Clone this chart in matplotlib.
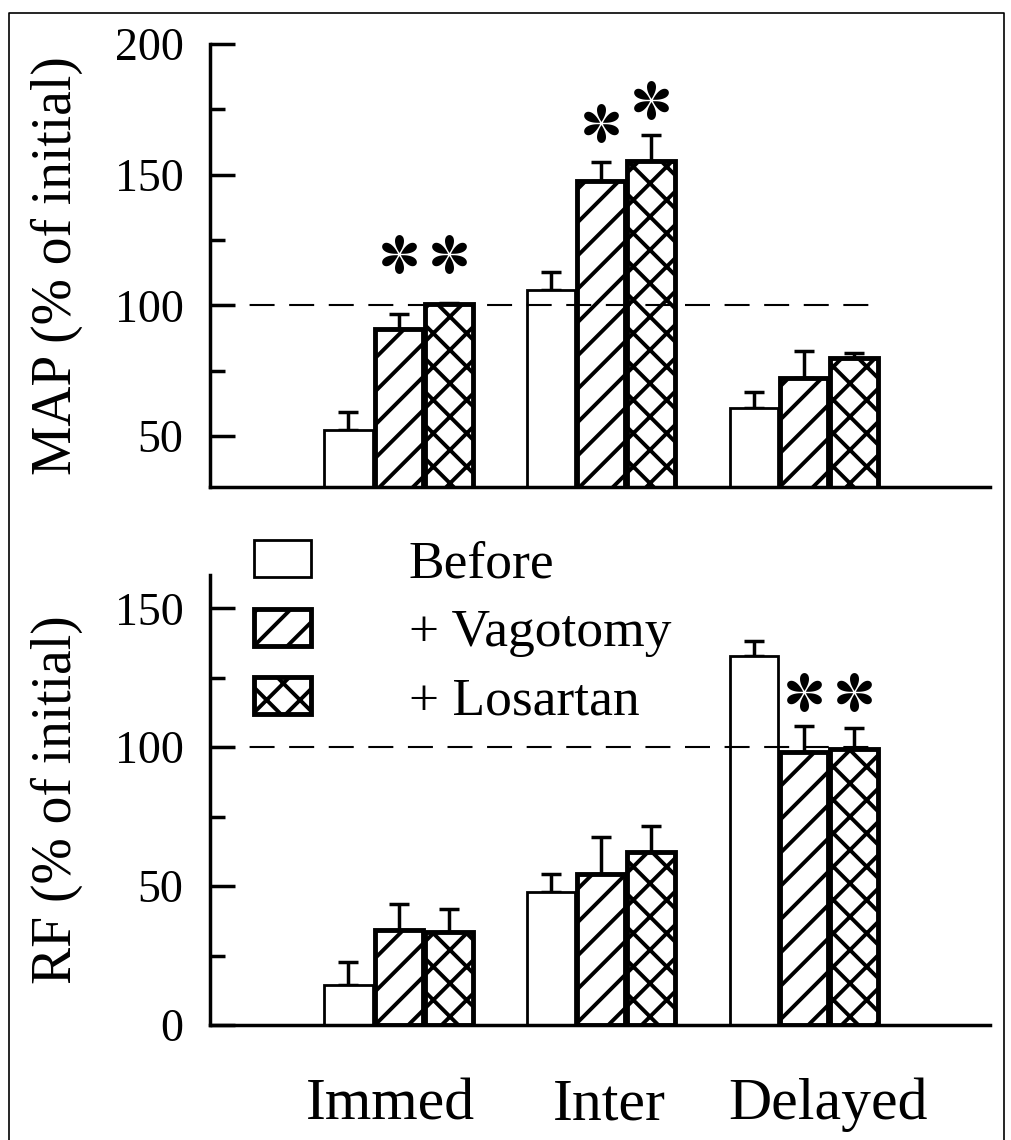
import numpy as np
import matplotlib.pyplot as plt
from matplotlib.lines import Line2D
from matplotlib.path import Path
from matplotlib.transforms import Affine2D

plt.rcParams['font.family'] = ['Liberation Serif', 'DejaVu Serif']
plt.rcParams['hatch.linewidth'] = 2.8

groups = ['Immed', 'Inter', 'Delayed']
series = ['Before', '+ Vagotomy', '+ Losartan']

# MAP (% of initial)
map_before = [52.3, 105.7, 60.7]
map_vag = [90.8, 147.7, 72.1]
map_los = [100.4, 155.3, 79.8]
map_before_err = [6.9, 6.9, 6.1]
map_vag_err = [5.8, 7.3, 10.3]
map_los_err = [0.6, 10.0, 1.9]
map_vag_star = [119.8, 169.7, None]
map_los_star = [119.8, 178.6, None]

# RF (% of initial)
rf_before = [14.4, 48.0, 132.9]
rf_vag = [34.3, 54.2, 98.2]
rf_los = [33.6, 62.1, 99.3]
rf_before_err = [8.3, 6.5, 5.5]
rf_vag_err = [9.4, 13.3, 9.4]
rf_los_err = [8.0, 9.7, 7.6]
rf_vag_star = [None, None, 120.0]
rf_los_star = [None, None, 120.0]

map_ticks = [50, 100, 150, 200]
rf_ticks = [0, 50, 100, 150]

group_x = np.arange(3) * 4.05
pitch = 1.0
width = 0.96
hatches = ['', '/', 'x']
edge_lw = [2.0, 3.5, 3.5]

# six teardrop petals, like the Times asterisk
t = np.linspace(0, 2 * np.pi, 60)
petal = Path(np.column_stack([0.15 * np.sin(t) * np.sin(t / 2),
                              0.04 + 0.46 * (1 - np.cos(t)) / 2]), closed=True)
star_path = Path.make_compound_path(*[
    Affine2D().rotate_deg(60 * k).transform_path(petal) for k in range(6)])


def draw_panel(ax, vals, errs, stars, ticks, ylim, ylabel):
    bars = []
    for i in range(3):
        x = group_x + (i - 1) * pitch
        b = ax.bar(x, vals[i], width, facecolor='white', edgecolor='black',
                   hatch=hatches[i], linewidth=edge_lw[i], zorder=2)
        bars.append(b)
        ax.errorbar(x, vals[i], yerr=[np.zeros(3), errs[i]], fmt='none',
                    ecolor='black', elinewidth=2.5, capsize=7.2, capthick=2.5,
                    zorder=1)
        if stars[i] is not None:
            sy = np.array([np.nan if s is None else s for s in stars[i]])
            ax.plot(x, sy, ls='none', marker=star_path, markersize=28,
                    color='black', markeredgewidth=0)
    xl = (-3.77, 11.83)
    ax.hlines(100, xl[0], group_x[-1] + pitch + width / 2, colors='black',
              linestyles=(0, (12, 7)), linewidth=1.5, zorder=3)
    for s in ['top', 'right']:
        ax.spines[s].set_visible(False)
    for s in ['left', 'bottom']:
        ax.spines[s].set_linewidth(2.5)
    ax.set_xticks([])
    ax.set_yticks(ticks)
    ax.set_yticks(np.arange(ticks[0], ticks[-1] + 1, 25), minor=True)
    ax.tick_params(axis='y', which='major', direction='in', length=18,
                   width=2.5, pad=19, labelsize=33)
    ax.tick_params(axis='y', which='minor', direction='in', length=11,
                   width=2.5)
    ax.set_xlim(*xl)
    ax.set_ylim(*ylim)
    ax.set_ylabel(ylabel, fontsize=40)
    ax.yaxis.set_label_coords(-0.163, 0.5)
    return bars


fig = plt.figure(figsize=(10.12, 11.4), dpi=100)
ax1 = fig.add_axes([0.2075, 0.5728, 0.7708, 0.3886])
ax2 = fig.add_axes([0.2075, 0.1009, 0.7708, 0.3947])

draw_panel(ax1, [map_before, map_vag, map_los],
           [map_before_err, map_vag_err, map_los_err],
           [None, map_vag_star, map_los_star], map_ticks, (30.5, 200),
           'MAP (% of initial)')
bars = draw_panel(ax2, [rf_before, rf_vag, rf_los],
                  [rf_before_err, rf_vag_err, rf_los_err],
                  [None, rf_vag_star, rf_los_star], rf_ticks, (0, 162),
                  'RF (% of initial)')

label_shift = [-0.17, 0.17, 0.49]
for j, g in enumerate(groups):
    ax2.annotate(g, xy=(group_x[j] + label_shift[j], 0),
                 xycoords=('data', 'axes fraction'), xytext=(0, -68),
                 textcoords='offset points', ha='center', va='baseline',
                 fontsize=43)

ax2.legend(bars, series, loc='upper left',
           bbox_to_anchor=(254 / 1012, 1 - 540 / 1140),
           bbox_transform=fig.transFigure, frameon=False, fontsize=38.5,
           handlelength=1.07, handleheight=0.69, handletextpad=1.82,
           labelspacing=0.38, borderpad=0, borderaxespad=0)

# frame round the figure
fig.add_artist(Line2D([9 / 1012, 9 / 1012, 1004 / 1012, 1004 / 1012],
                      [0, 1 - 12.5 / 1140, 1 - 12.5 / 1140, 0],
                      transform=fig.transFigure, color='black', lw=1.2))

fig.savefig('out.png', dpi=100)
